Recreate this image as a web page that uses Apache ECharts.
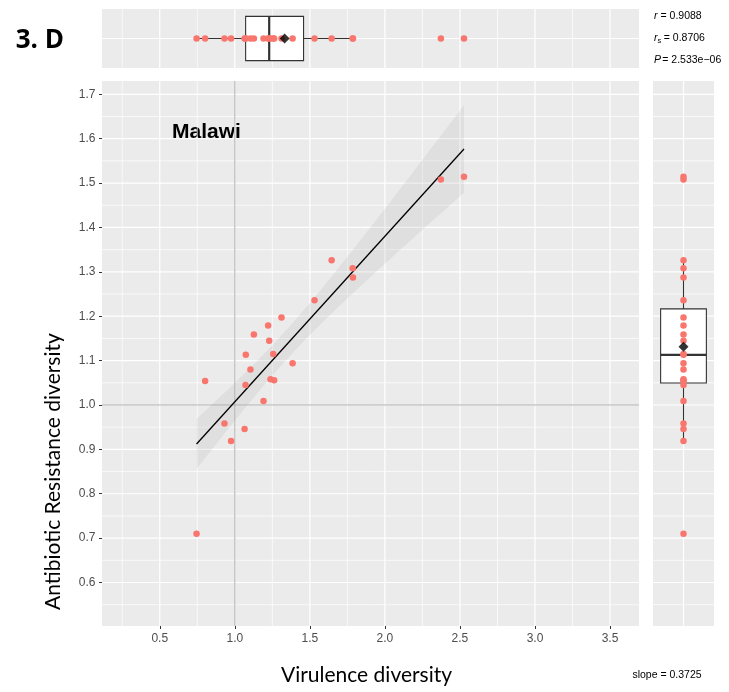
<!DOCTYPE html>
<html><head><meta charset="utf-8">
<script src="https://cdn.jsdelivr.net/npm/echarts@6/dist/echarts.min.js"></script>
<style>html,body{margin:0;padding:0;background:#fff}#c{width:729px;height:692px}</style>
</head><body><div id="c"></div>
<script>
// ---- data ----
const virulence  = [0.745, 0.802, 0.931, 0.975, 1.065, 1.071, 1.073, 1.104, 1.127, 1.191, 1.222, 1.229, 1.238, 1.256, 1.262, 1.311, 1.385, 1.531, 1.645, 1.785, 1.787, 2.373, 2.527];
const resistance = [0.710, 1.054, 0.958, 0.919, 0.946, 1.045, 1.113, 1.080, 1.159, 1.009, 1.179, 1.145, 1.058, 1.115, 1.056, 1.197, 1.094, 1.236, 1.326, 1.308, 1.287, 1.508, 1.514];
const xTicks = [0.5, 1.0, 1.5, 2.0, 2.5, 3.0, 3.5];
const xMinor = [0.25, 0.75, 1.25, 1.75, 2.25, 2.75, 3.25];
const yTicks = [0.6, 0.7, 0.8, 0.9, 1.0, 1.1, 1.2, 1.3, 1.4, 1.5, 1.6, 1.7];
const yMinor = [0.55, 0.65, 0.75, 0.85, 0.95, 1.05, 1.15, 1.25, 1.35, 1.45, 1.55, 1.65];
const refLineX = 1.0, refLineY = 1.0;
const panelLabel = '3. D';
const regionLabel = 'Malawi';
const xTitle = 'Virulence diversity';
const yTitle = 'Antibiotic Resistance diversity';
const statR = '0.9088', statRs = '0.8706', statP = '2.533e\u221206', statSlope = '0.3725';
const X_MIN = 0.115, X_MAX = 3.693, Y_MIN = 0.502, Y_MAX = 1.730;

// ---- derived statistics ----
const n = virulence.length;
const mean = a => a.reduce((s, v) => s + v, 0) / a.length;
function quantile(s, p) { const h = (s.length - 1) * p, lo = Math.floor(h); return s[lo] + (h - lo) * (s[Math.min(lo + 1, s.length - 1)] - s[lo]); }
function boxStats(a) {
  const s = a.slice().sort((x, y) => x - y);
  const q1 = quantile(s, 0.25), q2 = quantile(s, 0.5), q3 = quantile(s, 0.75), iqr = q3 - q1;
  const lo = Math.min(...s.filter(v => v >= q1 - 1.5 * iqr));
  const hi = Math.max(...s.filter(v => v <= q3 + 1.5 * iqr));
  return [lo, q1, q2, q3, hi];
}
const xbar = mean(virulence), ybar = mean(resistance);
let Sxx = 0, Sxy = 0;
for (let i = 0; i < n; i++) { Sxx += (virulence[i] - xbar) ** 2; Sxy += (virulence[i] - xbar) * (resistance[i] - ybar); }
const slope = Sxy / Sxx, icpt = ybar - slope * xbar;
let SSE = 0; for (let i = 0; i < n; i++) SSE += (resistance[i] - icpt - slope * virulence[i]) ** 2;
const sres = Math.sqrt(SSE / (n - 2)), tq = 2.0796;
const xLo = Math.min(...virulence), xHi = Math.max(...virulence);
const fit = x => icpt + slope * x;
const ci = x => tq * sres * Math.sqrt(1 / n + (x - xbar) ** 2 / Sxx);

// ---- helpers ----
function gridLines(xi, yi, items, stroke, z) {
  return {
    type: 'custom', xAxisIndex: xi, yAxisIndex: yi, z, silent: true, animation: false,
    data: items, encode: { x: 0, y: 1 },
    renderItem(params, api) {
      const cs = params.coordSys;
      const p = api.coord([api.value(0), api.value(1)]);
      const kind = api.value(2), w = api.value(3);
      const shape = kind === 0
        ? { x1: p[0], y1: cs.y, x2: p[0], y2: cs.y + cs.height }
        : { x1: cs.x, y1: p[1], x2: cs.x + cs.width, y2: p[1] };
      return { type: 'line', shape, style: { stroke, lineWidth: w } };
    }
  };
}
function boxSeries(xi, yi, stats, horizontal) {
  const item = horizontal ? [...stats, 0] : [0, ...stats];
  return {
    type: 'custom', xAxisIndex: xi, yAxisIndex: yi, z: 3, silent: true, animation: false,
    data: [item],
    encode: horizontal ? { x: [0, 1, 2, 3, 4], y: 5 } : { x: 0, y: [1, 2, 3, 4, 5] },
    renderItem(params, api) {
      const off = horizontal ? 0 : 1;
      const v = [0, 1, 2, 3, 4].map(i => api.value(i + off));
      const p = v.map(d => horizontal ? api.coord([d, 0]) : api.coord([0, d]));
      const band = horizontal ? api.size([0, 1])[1] : api.size([1, 0])[0];
      const half = band * 0.375;
      const st = { stroke: '#333333', lineWidth: 1.1, fill: null };
      const ch = [];
      if (horizontal) {
        const c = p[0][1];
        ch.push({ type: 'line', shape: { x1: p[0][0], y1: c, x2: p[1][0], y2: c }, style: st });
        ch.push({ type: 'line', shape: { x1: p[3][0], y1: c, x2: p[4][0], y2: c }, style: st });
        ch.push({ type: 'rect', shape: { x: p[1][0], y: c - half, width: p[3][0] - p[1][0], height: 2 * half }, style: { fill: '#fff', stroke: '#333333', lineWidth: 1.1 } });
        ch.push({ type: 'line', shape: { x1: p[2][0], y1: c - half, x2: p[2][0], y2: c + half }, style: { stroke: '#333333', lineWidth: 2.2 } });
      } else {
        const c = p[0][0];
        ch.push({ type: 'line', shape: { x1: c, y1: p[0][1], x2: c, y2: p[1][1] }, style: st });
        ch.push({ type: 'line', shape: { x1: c, y1: p[3][1], x2: c, y2: p[4][1] }, style: st });
        ch.push({ type: 'rect', shape: { x: c - half, y: p[3][1], width: 2 * half, height: p[1][1] - p[3][1] }, style: { fill: '#fff', stroke: '#333333', lineWidth: 1.1 } });
        ch.push({ type: 'line', shape: { x1: c - half, y1: p[2][1], x2: c + half, y2: p[2][1] }, style: { stroke: '#333333', lineWidth: 2.2 } });
      }
      return { type: 'group', children: ch };
    }
  };
}

const MAJ = 1.2, MIN = 0.7;
const mainGrid = [
  ...xMinor.map(v => [v, 1, 0, MIN]), ...xTicks.map(v => [v, 1, 0, MAJ]),
  ...yMinor.map(v => [1, v, 1, MIN]), ...yTicks.map(v => [1, v, 1, MAJ])
];
const topGrid = [
  ...xMinor.map(v => [v, 0, 0, MIN]), ...xTicks.map(v => [v, 0, 0, MAJ]), [1, 0, 1, MAJ]
];
const rightGrid = [
  ...yMinor.map(v => [0, v, 1, MIN]), ...yTicks.map(v => [0, v, 1, MAJ]), [0, 1, 0, MAJ]
];

const PT = '#F8766D';
const tickFont = { color: '#4D4D4D', fontSize: 12, fontFamily: 'Liberation Sans' };
const hiddenVal = (gi, min, max) => ({ type: 'value', gridIndex: gi, min, max, show: false, splitLine: { show: false } });
const hiddenCat = gi => ({ type: 'category', gridIndex: gi, data: [''], show: false, boundaryGap: true });
const txt = (x, y, text, font, align) => ({ type: 'text', x, y, style: { text, font, fill: '#000', textAlign: align || 'left', textVerticalAlign: 'middle' } });

const chart = echarts.init(document.getElementById('c'), null, { renderer: 'canvas' });
chart.setOption({
  animation: false,
  grid: [
    { left: 102, top: 81, width: 537, height: 545, show: true, backgroundColor: '#EBEBEB', borderWidth: 0 },
    { left: 102, top: 9, width: 537, height: 59, show: true, backgroundColor: '#EBEBEB', borderWidth: 0 },
    { left: 653, top: 81, width: 61, height: 545, show: true, backgroundColor: '#EBEBEB', borderWidth: 0 }
  ],
  xAxis: [
    { type: 'value', gridIndex: 0, min: X_MIN, max: X_MAX,
      axisLine: { show: false }, splitLine: { show: false },
      axisTick: { show: true, customValues: xTicks, length: 3, lineStyle: { color: '#333333', width: 1 } },
      axisLabel: { customValues: xTicks, formatter: v => v.toFixed(1), margin: 6.5, ...tickFont } },
    hiddenVal(1, X_MIN, X_MAX),
    hiddenCat(2)
  ],
  yAxis: [
    { type: 'value', gridIndex: 0, min: Y_MIN, max: Y_MAX,
      axisLine: { show: false }, splitLine: { show: false },
      axisTick: { show: true, customValues: yTicks, length: 3, lineStyle: { color: '#333333', width: 1 } },
      axisLabel: { customValues: yTicks, formatter: v => v.toFixed(1), margin: 6.5, ...tickFont } },
    hiddenCat(1),
    hiddenVal(2, Y_MIN, Y_MAX)
  ],
  series: [
    gridLines(0, 0, mainGrid, '#FFFFFF', 1),
    gridLines(1, 1, topGrid, '#FFFFFF', 1),
    gridLines(2, 2, rightGrid, '#FFFFFF', 1),
    gridLines(0, 0, [[refLineX, 1, 0, 1], [1, refLineY, 1, 1]], '#AFAFAF', 2),
    { type: 'custom', xAxisIndex: 0, yAxisIndex: 0, z: 3, silent: true, animation: false,
      data: [[xbar, ybar]], encode: { x: 0, y: 1 },
      renderItem(params, api) {
        const up = [], dn = [], steps = 80;
        for (let k = 0; k <= steps; k++) {
          const x = xLo + (xHi - xLo) * k / steps;
          up.push(api.coord([x, fit(x) + ci(x)]));
          dn.push(api.coord([x, fit(x) - ci(x)]));
        }
        return { type: 'polygon', shape: { points: up.concat(dn.reverse()) }, style: { fill: 'rgba(153,153,153,0.15)' } };
      } },
    { type: 'line', xAxisIndex: 0, yAxisIndex: 0, z: 4, silent: true, showSymbol: false, symbol: 'none',
      data: [[xLo, fit(xLo)], [xHi, fit(xHi)]], lineStyle: { color: '#000', width: 1.3 } },
    { type: 'scatter', xAxisIndex: 0, yAxisIndex: 0, z: 5, silent: true, symbolSize: 6.5,
      itemStyle: { color: PT, opacity: 1 }, data: virulence.map((v, i) => [v, resistance[i]]) },
    boxSeries(1, 1, boxStats(virulence), true),
    boxSeries(2, 2, boxStats(resistance), false),
    { type: 'scatter', xAxisIndex: 1, yAxisIndex: 1, z: 5, silent: true, symbolSize: 6.5,
      itemStyle: { color: PT, opacity: 1 }, data: virulence.map(v => [v, 0]) },
    { type: 'scatter', xAxisIndex: 2, yAxisIndex: 2, z: 5, silent: true, symbolSize: 6.5,
      itemStyle: { color: PT, opacity: 1 }, data: resistance.map(v => [0, v]) },
    { type: 'scatter', xAxisIndex: 1, yAxisIndex: 1, z: 6, silent: true, symbol: 'diamond', symbolSize: 10,
      itemStyle: { color: '#000' }, data: [[xbar, 0]] },
    { type: 'scatter', xAxisIndex: 2, yAxisIndex: 2, z: 6, silent: true, symbol: 'diamond', symbolSize: 10,
      itemStyle: { color: '#000' }, data: [[0, ybar]] }
  ],
  graphic: [
    txt(15.7, 40.5, panelLabel, 'bold 26px "Open Sans"'),
    txt(172, 131.8, regionLabel, 'bold 21px "Liberation Sans"'),
    txt(366.5, 674.8, xTitle, '21px Lato', 'center'),
    { type: 'text', x: 53, y: 610, rotation: Math.PI / 2, style: { text: yTitle, font: '21px Lato', fill: '#000', textAlign: 'left', textVerticalAlign: 'middle' } },
    txt(654, 16, 'r', 'italic 10.5px "Liberation Sans"'),
    txt(660.5, 16, '= ' + statR, '10.5px "Liberation Sans"'),
    txt(654, 38.5, 'r', 'italic 10.5px "Liberation Sans"'),
    txt(657.6, 41, 's', '7.5px "Liberation Sans"'),
    txt(663.8, 38.5, '= ' + statRs, '10.5px "Liberation Sans"'),
    txt(654, 60.5, 'P', 'italic 10.5px "Liberation Sans"'),
    txt(662.3, 60.5, '= ' + statP, '10.5px "Liberation Sans"'),
    txt(632.4, 675, 'slope = ' + statSlope, '10.5px "Liberation Sans"')
  ]
});
</script></body></html>
